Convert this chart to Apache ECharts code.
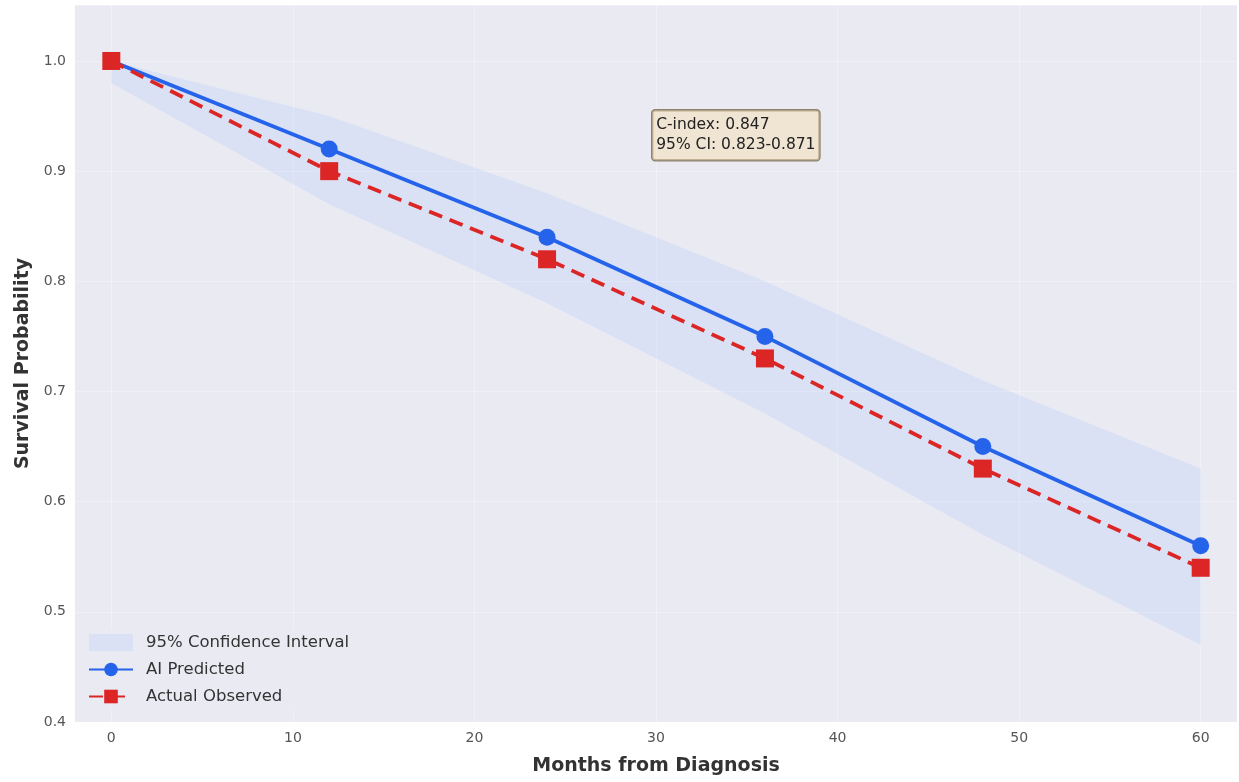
<!DOCTYPE html>
<html>
<head>
<meta charset="utf-8">
<script src="https://cdn.jsdelivr.net/npm/echarts@6/dist/echarts.min.js"></script>
<style>
html,body{margin:0;padding:0;background:#ffffff;}
#chart{width:1239px;height:782px;}
</style>
</head>
<body>
<div id="chart"></div>
<script>
const months = [0, 12, 24, 36, 48, 60];
const aiPredicted = [1.0, 0.92, 0.84, 0.75, 0.65, 0.56];
const actualObserved = [1.0, 0.90, 0.82, 0.73, 0.63, 0.54];
const ciUpper = [1.0, 0.95, 0.88, 0.80, 0.71, 0.63];
const ciLower = [0.98, 0.87, 0.78, 0.68, 0.57, 0.47];
const xTicks = [0, 10, 20, 30, 40, 50, 60];
const annotationLines = ['C-index: 0.847', '95% CI: 0.823-0.871'];

const FONT = 'DejaVu Sans, sans-serif';
const chart = echarts.init(document.getElementById('chart'), null, {renderer: 'canvas'});

const option = {
  backgroundColor: '#ffffff',
  animation: false,
  textStyle: {fontFamily: FONT},
  grid: {left: 75, right: 2, top: 5, bottom: 60, show: true, backgroundColor: '#eaeaf2', borderWidth: 0},
  xAxis: {
    type: 'value', min: -2, max: 62,
    name: 'Months from Diagnosis', nameLocation: 'middle', nameGap: 35,
    nameTextStyle: {fontSize: 19, fontWeight: 'bold', color: '#333333', fontFamily: FONT},
    axisLine: {show: false}, axisTick: {show: false, customValues: xTicks},
    axisLabel: {customValues: xTicks, fontSize: 14, color: '#555555', margin: 9, fontFamily: FONT},
    splitLine: {show: true, lineStyle: {color: 'rgba(255,255,255,0.3)', width: 1}}
  },
  yAxis: {
    type: 'value', min: 0.4, max: 1.0508, interval: 0.1,
    name: 'Survival Probability', nameLocation: 'middle', nameGap: 42, nameRotate: 90,
    nameTextStyle: {fontSize: 19, fontWeight: 'bold', color: '#333333', fontFamily: FONT},
    axisLine: {show: false}, axisTick: {show: false},
    axisLabel: {fontSize: 14, color: '#555555', margin: 9, fontFamily: FONT,
      formatter: v => Math.abs(v * 10 - Math.round(v * 10)) < 1e-6 ? v.toFixed(1) : ''},
    splitLine: {show: true, lineStyle: {color: 'rgba(255,255,255,0.3)', width: 1}}
  },
  legend: {
    orient: 'vertical', left: 83, top: 629,
    itemWidth: 44, itemHeight: 17, itemGap: 10,
    backgroundColor: 'rgba(234,234,242,0.8)',
    textStyle: {fontSize: 16.5, color: '#333333', fontFamily: FONT, padding: [0, 0, 0, 8]},
    data: [
      {name: '95% Confidence Interval', icon: 'rect'},
      {name: 'AI Predicted'},
      {name: 'Actual Observed'}
    ]
  },
  series: [
    {
      name: '95% Confidence Interval',
      type: 'custom',
      itemStyle: {color: 'rgba(147,190,253,0.18)'},
      data: months.map((m, i) => [m, ciUpper[i], ciLower[i]]),
      encode: {x: 0, y: [1, 2]},
      z: 1,
      renderItem: function (params, api) {
        if (params.dataIndex !== 0) return null;
        const pts = [];
        for (let i = 0; i < months.length; i++) pts.push(api.coord([months[i], ciUpper[i]]));
        for (let i = months.length - 1; i >= 0; i--) pts.push(api.coord([months[i], ciLower[i]]));
        return {
          type: 'polygon',
          shape: {points: pts},
          style: {fill: 'rgba(147,190,253,0.18)'},
          silent: true
        };
      }
    },
    {
      name: 'AI Predicted',
      type: 'line',
      data: months.map((m, i) => [m, aiPredicted[i]]),
      symbol: 'circle', symbolSize: 17,
      lineStyle: {color: '#2563eb', width: 3.8},
      itemStyle: {color: '#2563eb'},
      z: 3
    },
    {
      name: 'Actual Observed',
      type: 'line',
      data: months.map((m, i) => [m, actualObserved[i]]),
      symbol: 'rect', symbolSize: 18,
      lineStyle: {color: '#dc2626', width: 3.8, type: [14, 8]},
      itemStyle: {color: '#dc2626'},
      z: 4
    }
  ],
  graphic: [
    {
      type: 'text',
      left: 651, top: 109,
      z: 10,
      style: {
        text: annotationLines.join('\n'),
        fontSize: 15.5, lineHeight: 20, fill: '#222222', fontFamily: FONT,
        backgroundColor: 'rgba(245,222,179,0.5)',
        borderColor: '#8c8270', borderWidth: 1.2, borderRadius: 3,
        padding: [5, 4, 5, 4]
      }
    }
  ]
};
chart.setOption(option);
</script>
</body>
</html>
